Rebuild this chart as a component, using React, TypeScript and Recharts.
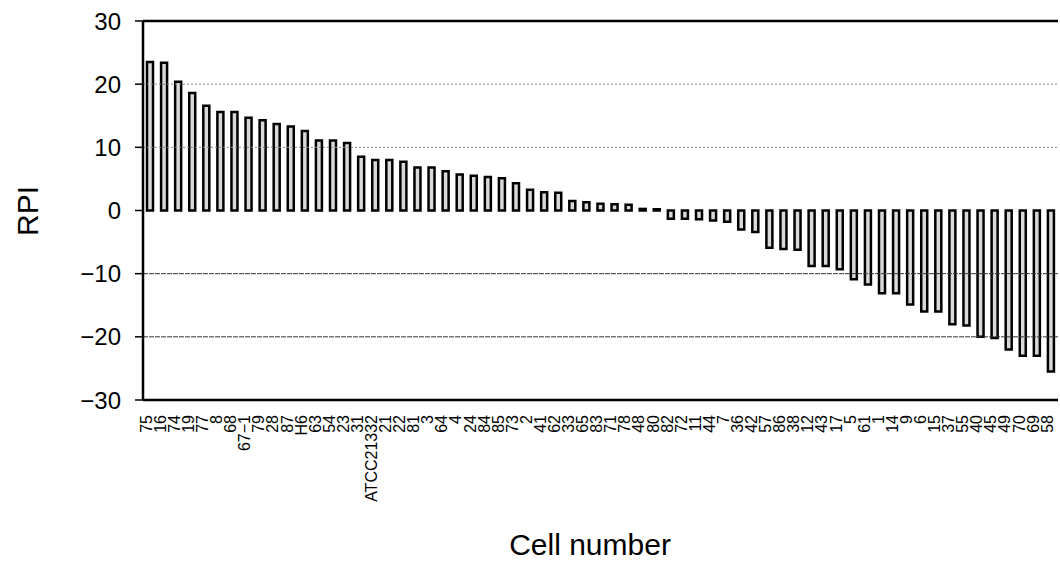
import { BarChart, Bar, XAxis, YAxis, ReferenceLine } from 'recharts'

const cells = [
  '75', '16', '74', '19', '77', '8', '68', '67\u22121', '79', '28', '87', 'H6', '63', '54', '23', '31',
  'ATCC21332', '21', '22', '81', '3', '64', '4', '24', '84', '85', '73', '2', '41', '62', '33', '65',
  '83', '71', '78', '48', '80', '82', '72', '11', '44', '7', '36', '42', '57', '86', '38', '12',
  '43', '17', '5', '61', '1', '14', '9', '6', '15', '37', '55', '40', '45', '49', '70', '69', '58',
]

const rpi = [
  23.5, 23.4, 20.4, 18.6, 16.6, 15.6, 15.6, 14.7, 14.3, 13.7, 13.3, 12.6, 11.1, 11.1, 10.7, 8.5,
  8.0, 8.0, 7.7, 6.8, 6.8, 6.2, 5.7, 5.5, 5.3, 5.1, 4.3, 3.3, 2.9, 2.8, 1.5, 1.3,
  1.05, 1.0, 0.9, 0.25, 0.2, -1.3, -1.3, -1.4, -1.6, -1.8, -3.0, -3.4, -5.9, -6.1, -6.2, -8.8,
  -8.8, -9.3, -10.9, -11.7, -13.1, -13.1, -14.9, -16.0, -16.0, -18.0, -18.2, -20.0, -20.2, -22.0, -23.0, -23.0, -25.5,
]

const yTicks = [-30, -20, -10, 0, 10, 20, 30]

const data = cells.map((cell, i) => ({ cell, rpi: rpi[i] }))

const FONT = '"Liberation Sans", Arial, sans-serif'

// rotated cell labels, read bottom to top, hung just under the axis
function CellTick({ x, y, payload }: any) {
  const tx = x - 4
  const ty = y + 7
  return (
    <text
      x={tx}
      y={ty}
      dy="0.36em"
      transform={`rotate(-90 ${tx} ${ty})`}
      textAnchor="end"
      fontSize={16}
      fontFamily={FONT}
      fill="#000"
    >
      {payload.value}
    </text>
  )
}

export default function App() {
  return (
    <div style={{ position: 'absolute', left: 0, top: 0, width: 1060, height: 567, background: '#fff', fontFamily: FONT }}>
      <BarChart
        width={1060}
        height={567}
        data={data}
        margin={{ top: 21, right: 2, left: 0, bottom: 0 }}
        barCategoryGap={0}
      >
        {/* grid: upper half light dotted, lower half darker */}
        <ReferenceLine y={20} stroke="#888" strokeDasharray="2 2" />
        <ReferenceLine y={10} stroke="#888" strokeDasharray="2 2" />
        <ReferenceLine y={-10} stroke="#333" strokeDasharray="5 1" />
        <ReferenceLine y={-20} stroke="#333" strokeDasharray="5 1" />
        <ReferenceLine y={30} stroke="#000" strokeWidth={2.5} />
        <XAxis
          dataKey="cell"
          interval={0}
          height={167}
          tick={<CellTick />}
          tickLine={false}
          axisLine={{ stroke: '#000', strokeWidth: 2.5 }}
        />
        <YAxis
          width={143}
          domain={[-30, 30]}
          ticks={yTicks}
          interval={0}
          tickSize={8}
          tickMargin={14}
          tickFormatter={(v: number) => (v < 0 ? `\u2212${Math.abs(v)}` : `${v}`)}
          tick={{ fill: '#000', fontSize: 24, fontFamily: FONT }}
          tickLine={{ stroke: '#000', strokeWidth: 1.5 }}
          axisLine={{ stroke: '#000', strokeWidth: 2.5 }}
        />
        <Bar
          dataKey="rpi"
          barSize={6}
          fill="#d9d9d9"
          stroke="#000"
          strokeWidth={2.5}
          isAnimationActive={false}
        />
      </BarChart>
      <div
        style={{
          position: 'absolute', left: 28, top: 211, transform: 'translate(-50%, -50%) rotate(-90deg)',
          fontSize: 30, whiteSpace: 'nowrap', color: '#000',
        }}
      >
        RPI
      </div>
      <div
        style={{
          position: 'absolute', left: 590, top: 545, transform: 'translate(-50%, -50%)',
          fontSize: 30, whiteSpace: 'nowrap', color: '#000',
        }}
      >
        Cell number
      </div>
    </div>
  )
}
